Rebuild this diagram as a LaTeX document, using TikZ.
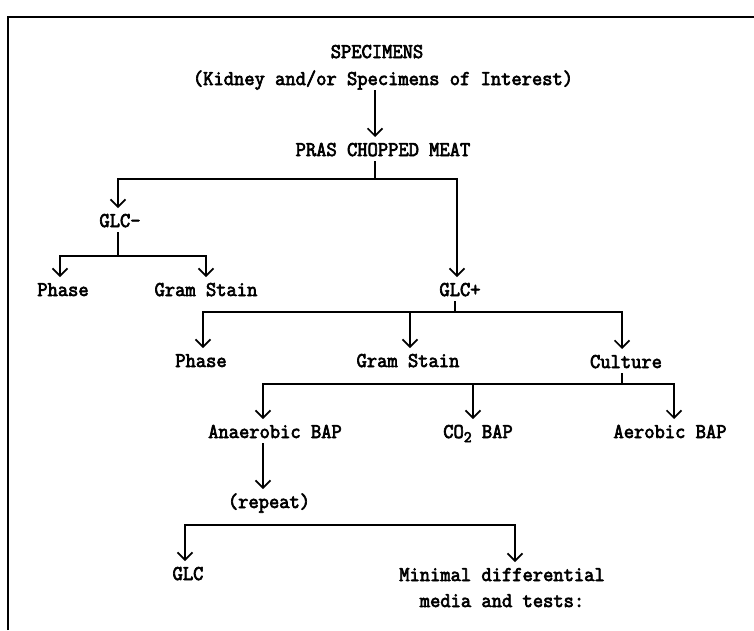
\documentclass[tikz,border=0pt]{standalone}
\usepackage{fontspec}
\newfontfamily\typefont[FakeStretch=0.95,FakeBold=3.2]{Latin Modern Mono}
\usetikzlibrary{arrows.meta,calc}

\begin{document}
\begin{tikzpicture}
[x=1pt,y=-1pt,line width=1.2pt,
lbl/.style={font=\typefont\fontsize{21}{26}\selectfont,anchor=base,
  inner sep=0pt,outer sep=5pt,text height=14pt,text depth=0pt},
barb/.tip={Straight Barb[length=7.5pt,width=15pt,line width=1.7pt]},
arr/.style={-barb},
arrs/.style={barb-barb}]
%%%%%%%%%%
\useasboundingbox (0,0) rectangle (754,630);
\draw (8,630) -- (8,17) -- (754,17);

%% texts
\node[lbl] (spec) at (377,58) {SPECIMENS};
\node[lbl] (kidney) at (383,85) {(Kidney and/or Specimens of Interest)};
\node[lbl] (pras) at (383,156) {PRAS CHOPPED MEAT};
\node[lbl] (glcm) at (120,227) {GLC-};
\node[lbl] (phl) at (63,296) {Phase};
\node[lbl] (gsl) at (206,296) {Gram Stain};
\node[lbl] (glcp) at (460,296) {GLC+};
\node[lbl] (ph2) at (201,367) {Phase};
\node[lbl] (gs2) at (408,367) {Gram Stain};
\node[lbl] (cult) at (626,368) {Culture};
\node[lbl] (anaer) at (275,438) {Anaerobic BAP};
\node[lbl] (co2) at (478,438) {CO\raisebox{-4pt}{\fontsize{16}{16}\selectfont 2} BAP};
\node[lbl] (aero) at (670,438) {Aerobic BAP};
\node[lbl] (rep) at (269,508) {(repeat)};
\node[lbl] (glc) at (188,580) {GLC};
\node[lbl] (mde1) at (502,581) {Minimal differential};
\node[lbl] (mde2) at (502,607) {media and tests:};

%% branch points
\coordinate (j1) at (375,179);
\coordinate (j1w) at (118,179);
\coordinate (j1e) at (457,179);
\coordinate (j2) at (118,256);
\coordinate (j2w) at (60,256);
\coordinate (j2e) at (206,256);
\coordinate (j3) at (455,312);
\coordinate (j3w) at (203,312);
\coordinate (j3m) at (410,312);
\coordinate (j3e) at (622,312);
\coordinate (j4) at (622,384);
\coordinate (j4w) at (263,384);
\coordinate (j4m) at (473,384);
\coordinate (j4e) at (674,384);
\coordinate (j5w) at (185,525);
\coordinate (j5e) at (515,525);

%% connectors
\draw[arr] (kidney.south -| j1) -- (pras.north -| j1);
\draw (pras.south -| j1) -- (j1);
\draw[arrs] (glcm.north -| j1w) |- (j1e) -- (glcp.north -| j1e);

\draw (glcm.south -| j2) -- (j2);
\draw[arrs] (phl.north -| j2w) |- (j2e) -- (gsl.north -| j2e);

\draw (glcp.south -| j3) -- (j3);
\draw[arrs] (ph2.north -| j3w) |- (j3e) -- (cult.north -| j3e);
\draw[arr] (j3m) -- (gs2.north -| j3m);

\draw (cult.south -| j4) -- (j4);
\draw[arrs] (anaer.north -| j4w) |- (j4e) -- (aero.north -| j4e);
\draw[arr] (j4m) -- (co2.north -| j4m);

\draw[arr] (anaer.south -| j4w) -- (rep.north -| j4w);
\draw[arrs] (glc.north -| j5w) |- (j5e) -- (mde1.north -| j5e);
\end{tikzpicture}
\end{document}
